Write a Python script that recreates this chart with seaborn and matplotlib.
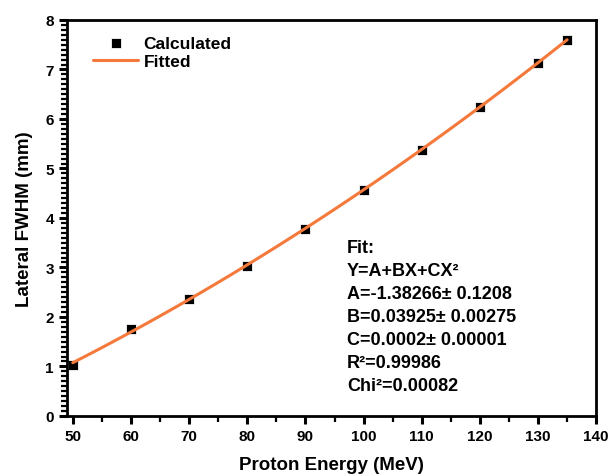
import numpy as np
import pandas as pd
import matplotlib
matplotlib.use("Agg")
import matplotlib.pyplot as plt
import seaborn as sns

# data
energy = [50, 60, 70, 80, 90, 100, 110, 120, 130, 135]
fwhm = [1.03, 1.76, 2.37, 3.03, 3.77, 4.57, 5.38, 6.25, 7.14, 7.60]
x_ticks = [50, 60, 70, 80, 90, 100, 110, 120, 130, 140]
y_ticks = [0, 1, 2, 3, 4, 5, 6, 7, 8]
fit_lines = ["Fit:", "Y=A+BX+CX\u00b2", "A=-1.38266\u00b1 0.1208",
             "B=0.03925\u00b1 0.00275", "C=0.0002\u00b1 0.00001",
             "R\u00b2=0.99986", "Chi\u00b2=0.00082"]

sns.set_style("ticks")
plt.rcParams['font.family'] = ['Liberation Sans', 'DejaVu Sans']
plt.rcParams['font.weight'] = 'bold'
plt.rcParams['text.color'] = 'black'
plt.rcParams['axes.labelcolor'] = 'black'
plt.rcParams['axes.edgecolor'] = 'black'
plt.rcParams['axes.linewidth'] = 2

df = pd.DataFrame({'energy': energy, 'fwhm': fwhm})

fig = plt.figure(figsize=(6.09, 4.77), dpi=100)
ax = fig.add_axes([0.110, 0.126, 0.869, 0.830])

sns.scatterplot(data=df, x='energy', y='fwhm', marker='s', s=50, color='black',
                ax=ax, label='Calculated')
# quadratic fit line
sns.regplot(data=df, x='energy', y='fwhm', order=2, ci=None, scatter=False,
            color='#F5793A', line_kws={'linewidth': 2.2}, ax=ax, label='Fitted')

ax.set_xlim(49, 140)
ax.set_ylim(0, 8)
ax.set_xticks(x_ticks)
ax.set_yticks(y_ticks)
ax.set_xticks(np.arange(55, 140, 10), minor=True)
ax.set_yticks(np.arange(0, 8.001, 0.1), minor=True)
ax.tick_params(axis='both', which='major', direction='out', length=6, width=2.2,
               labelsize=11, colors='black')
ax.tick_params(axis='both', which='minor', direction='out', length=4, width=1.6,
               colors='black')

ax.set_xlabel('Proton Energy (MeV)', fontsize=13.5, fontweight='bold', labelpad=9)
ax.set_ylabel('Lateral FWHM (mm)', fontsize=13.5, fontweight='bold', labelpad=9)

leg = ax.legend(loc='upper left', frameon=False, fontsize=12.5, handlelength=2.6,
                handletextpad=0.3, labelspacing=0.2, borderaxespad=0.5,
                bbox_to_anchor=(0.02, 1.0))

for i, line in enumerate(fit_lines):
    ax.text(0.529, 0.425 - i * 0.058, line, transform=ax.transAxes, fontsize=13,
            fontweight='bold', va='center', ha='left')

fig.savefig('out.png', dpi=100)
